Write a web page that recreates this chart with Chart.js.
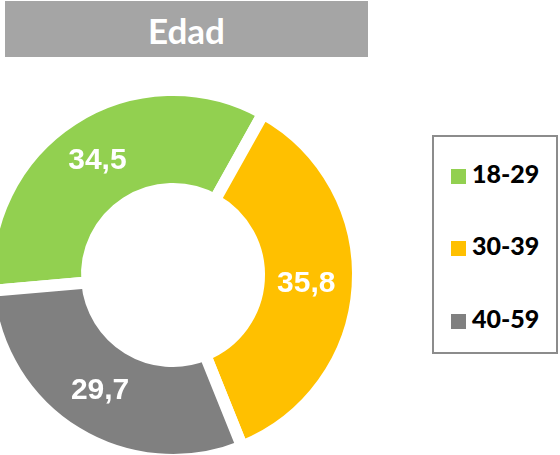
<!DOCTYPE html>
<html>
<head>
<meta charset="utf-8">
<script src="https://cdn.jsdelivr.net/npm/chart.js@4/dist/chart.umd.min.js"></script>
<style>
  html, body { margin: 0; padding: 0; background: #fff; }
  body { width: 560px; height: 455px; position: relative; overflow: hidden; }
  #title {
    position: absolute; left: 5px; top: 1px; width: 363px; height: 56px;
    background: #a5a5a5; color: #fff;
    font: bold 35px Lato, "Open Sans", sans-serif;
    line-height: 58px; text-align: center;
  }
  #chartBox { position: absolute; left: -27px; top: 75px; width: 400px; height: 400px; }
  #legend {
    position: absolute; left: 432px; top: 135px; width: 122px; height: 215px;
    border: 2px solid #8c8c8c; box-sizing: content-box;
  }
  .item { position: absolute; left: 17px; height: 30px; line-height: 30px;
    font: 900 25px Lato, "Open Sans", sans-serif; color: #000; }
  .item span.sw { display: inline-block; width: 15px; height: 15px; margin-right: 6px; vertical-align: -1px; }
</style>
</head>
<body>
<div id="title"></div>
<div id="chartBox"><canvas id="myChart" width="400" height="400"></canvas></div>
<div id="legend"></div>

<script>
  // chart data
  var chartTitle = "Edad";
  var labels = ["18-29", "30-39", "40-59"];
  var values = [34.5, 35.8, 29.7];
  var colors = ["#92d050", "#ffc000", "#808080"];

  // white value labels in the middle of each slice
  var sliceLabels = {
    id: 'sliceLabels',
    afterDatasetsDraw: function(chart) {
      var ctx = chart.ctx;
      var meta = chart.getDatasetMeta(0);
      ctx.save();
      ctx.fillStyle = "#fff";
      ctx.font = "bold 30px 'Liberation Sans', Arial, sans-serif";
      ctx.textAlign = "center";
      ctx.textBaseline = "middle";
      meta.data.forEach(function(arc, i) {
        var p = arc.tooltipPosition();
        var txt = values[i].toFixed(1).replace(".", ",");
        ctx.fillText(txt, p.x - 2, p.y);
      });
      ctx.restore();
    }
  };

  window.onload = function() {
    document.getElementById("title").textContent = chartTitle;

    var ctx = document.getElementById('myChart').getContext('2d');
    var chart = new Chart(ctx, {
      type: 'doughnut',
      data: {
        labels: labels,
        datasets: [{
          data: values,
          backgroundColor: colors,
          borderColor: "#fff",
          borderWidth: 12,
          borderJoinStyle: "miter"
        }]
      },
      options: {
        responsive: false,
        animation: false,
        devicePixelRatio: 1,
        events: [],
        radius: 185,
        cutout: "46.5%",
        rotation: -95,
        layout: { padding: 0 },
        plugins: {
          legend: { display: false },
          tooltip: { enabled: false }
        }
      },
      plugins: [sliceLabels]
    });

    // legend box on the right, built from the same arrays
    var legend = document.getElementById("legend");
    var rowTops = [21, 93, 166];
    labels.forEach(function(lab, i) {
      var div = document.createElement("div");
      div.className = "item";
      div.style.top = rowTops[i] + "px";
      var sw = document.createElement("span");
      sw.className = "sw";
      sw.style.background = colors[i];
      div.appendChild(sw);
      div.appendChild(document.createTextNode(lab));
      legend.appendChild(div);
    });
  };
</script>
</body>
</html>
